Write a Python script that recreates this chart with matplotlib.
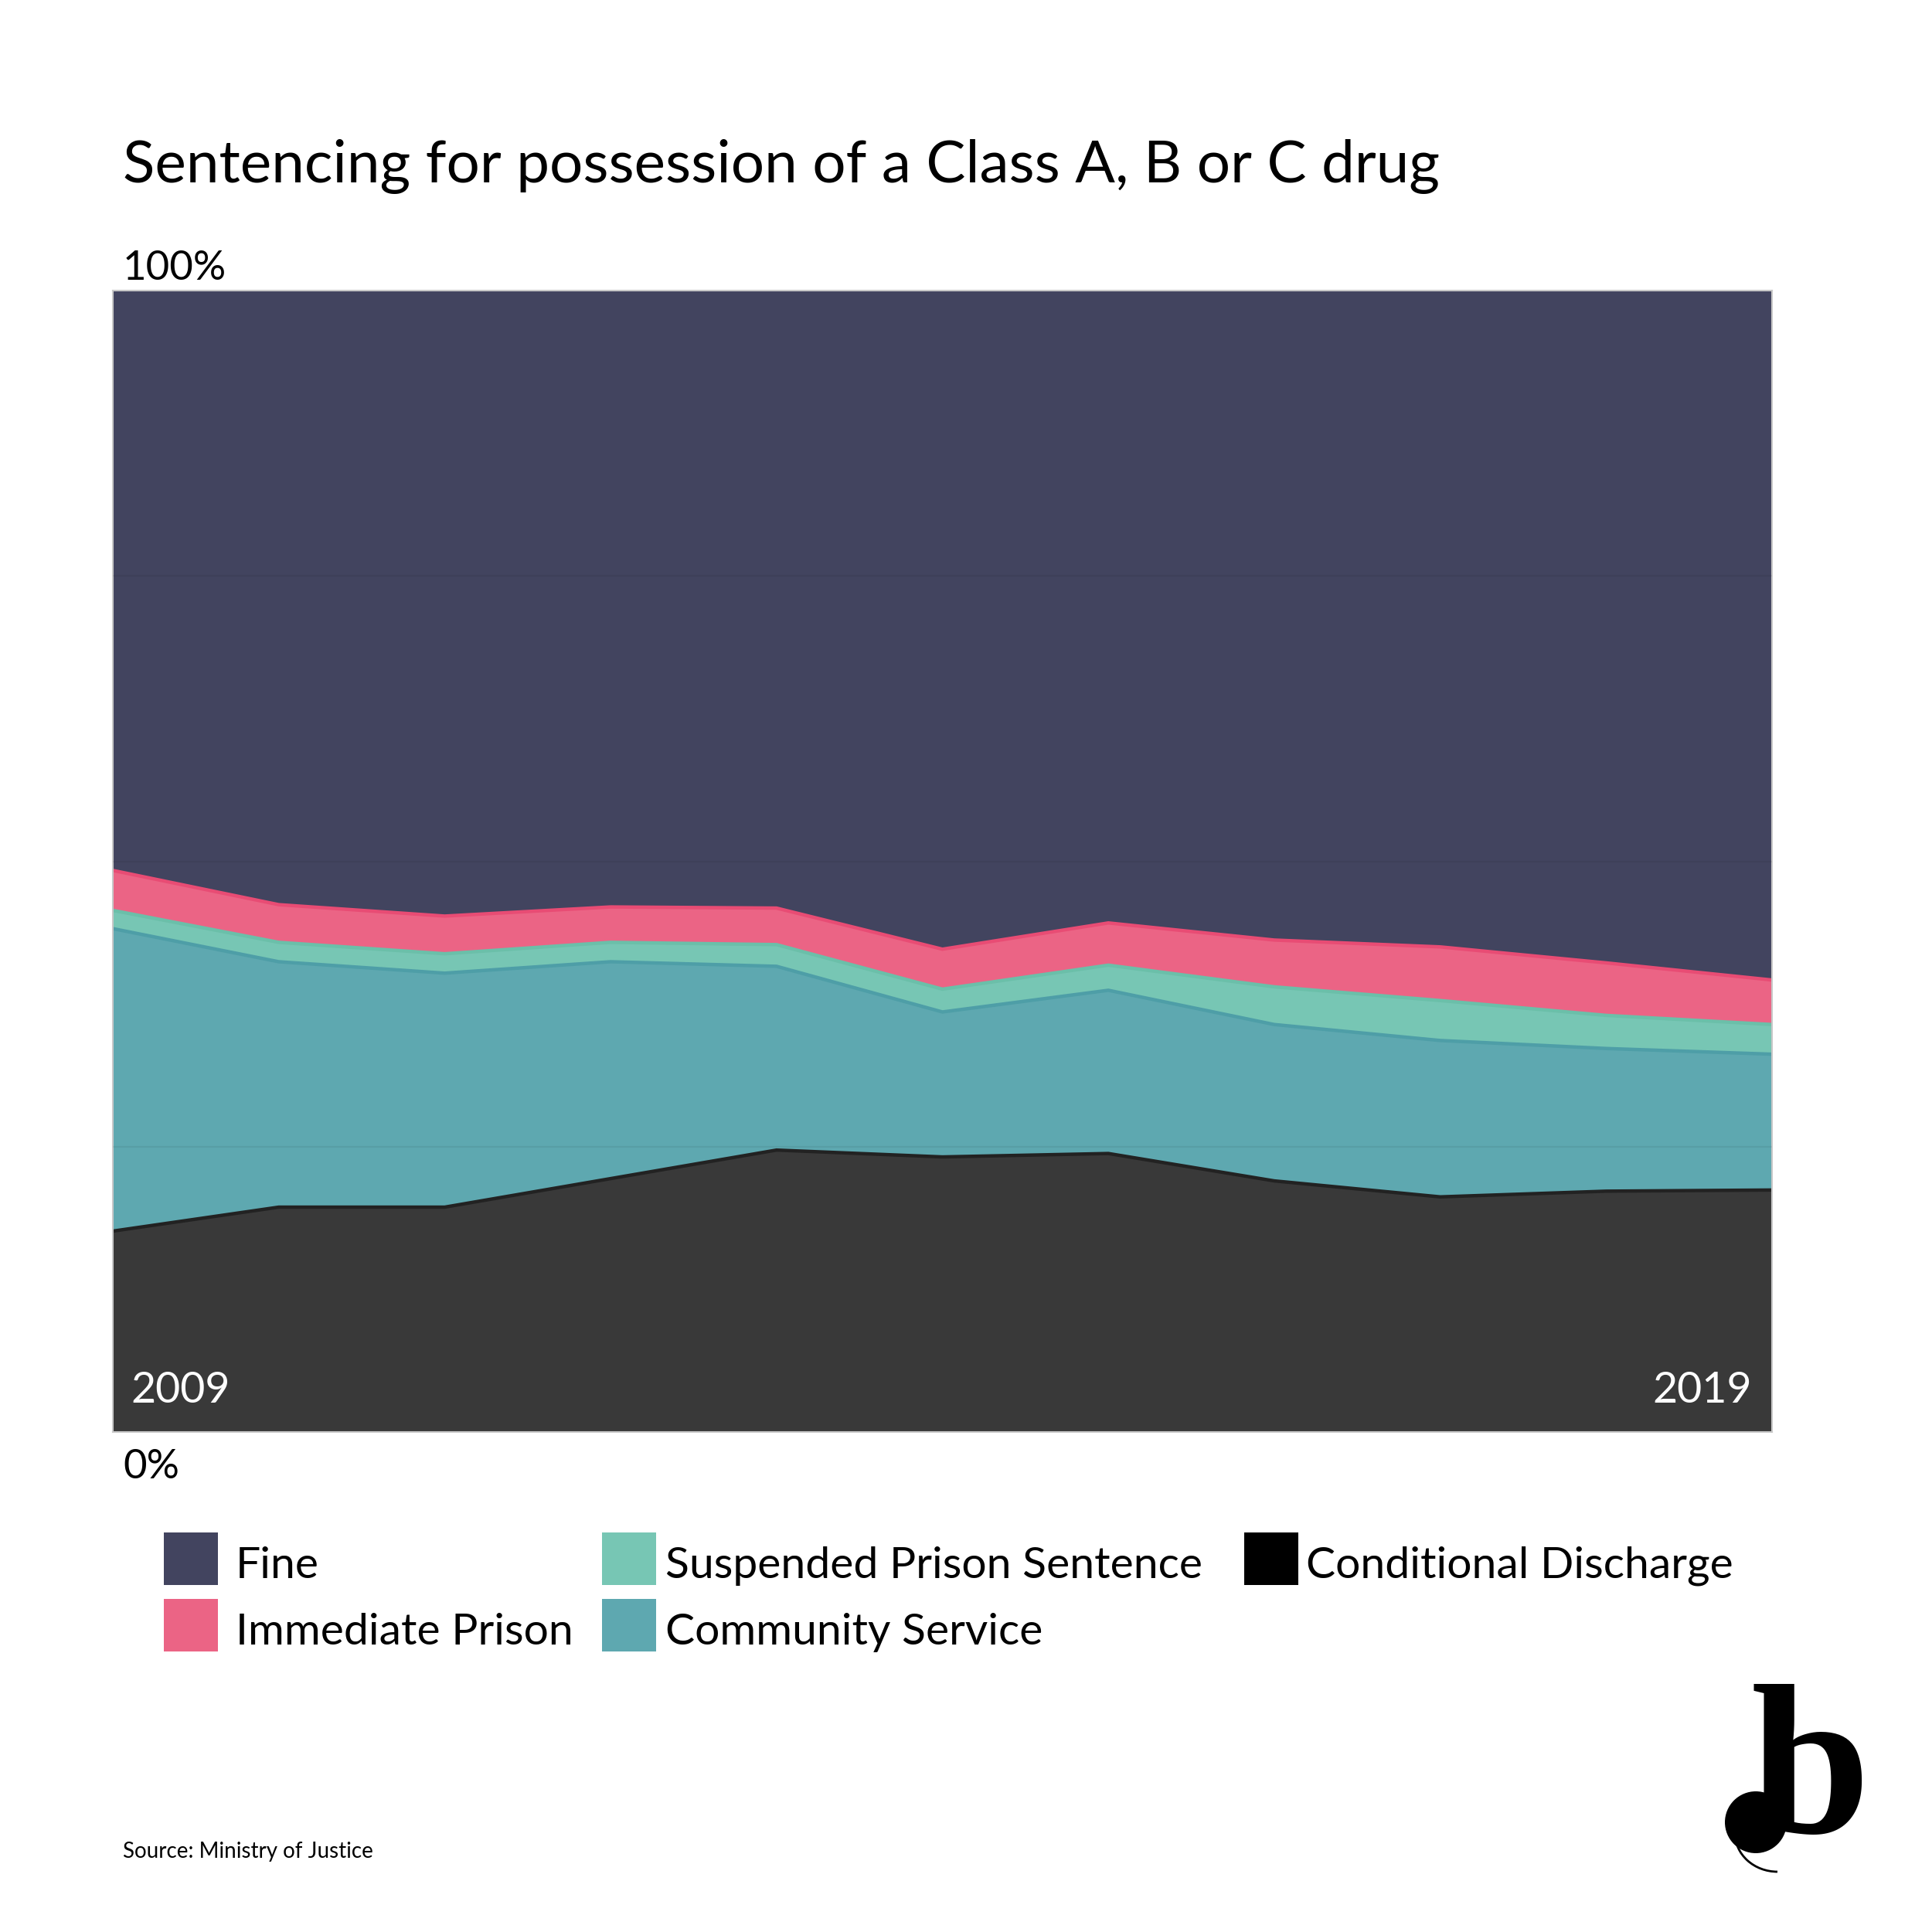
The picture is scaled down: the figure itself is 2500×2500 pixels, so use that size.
import numpy as np
import matplotlib.pyplot as plt
from matplotlib.patches import Rectangle, Circle, Arc

# share of sentences (%), 2009 -> 2019
years = list(range(2009, 2020))
conditional = [17.6, 19.7, 19.7, 22.2, 24.7, 24.1, 24.4, 22.0, 20.6, 21.1, 21.2]
community = [26.5, 21.5, 20.5, 19.0, 16.1, 12.7, 14.3, 13.7, 13.7, 12.5, 11.9]
suspended = [1.6, 1.7, 1.7, 1.7, 1.9, 2.0, 2.2, 3.3, 3.5, 2.9, 2.6]
immediate = [3.5, 3.3, 3.3, 3.1, 3.2, 3.5, 3.7, 4.1, 4.7, 4.6, 3.9]
fine = [50.8, 53.8, 54.8, 54.0, 54.1, 57.7, 55.4, 56.9, 57.5, 58.9, 60.4]

legend_rows = [["Fine", "Suspended Prison Sentence", "Conditional Discharge"],
               ["Immediate Prison", "Community Service"]]

fill_colors = ["#393939", "#5ea8b0", "#77c6b4", "#eb6485", "#42445f"]
edge_colors = ["#222222", "#4e9ea7", "#6bbfa9", "#e84c74"]
legend_colors = {"Fine": "#42445f", "Immediate Prison": "#eb6485",
                 "Suspended Prison Sentence": "#77c6b4",
                 "Community Service": "#5ea8b0", "Conditional Discharge": "#000000"}

W = 2500.0
TEXT = ["Lato", "DejaVu Sans"]


def px(x, y):
    return x / W, 1 - y / W


fig = plt.figure(figsize=(25, 25), dpi=100)
fig.patch.set_facecolor("white")

ax = fig.add_axes([146 / W, 1 - 1853 / W, 2147 / W, 1477 / W])
ax.stackplot(years, conditional, community, suspended, immediate, fine,
             colors=fill_colors, lw=0)
tops = np.cumsum([conditional, community, suspended, immediate], axis=0)
for top, c in zip(tops, edge_colors):
    ax.plot(years, top, color=c, lw=3.2, solid_joinstyle="miter")
for g in [25, 50, 75]:
    ax.axhline(g, color="black", alpha=0.06, lw=1.5, zorder=5)

ax.set_xlim(2009, 2019)
ax.set_ylim(0, 100)
ax.set_xticks([])
ax.set_yticks([])
for s in ax.spines.values():
    s.set_color("#c8c8c8")
    s.set_linewidth(1.5)

# year labels inside the plot
ax.text(0.011, 0.026, "2009", transform=ax.transAxes, color="white",
        fontsize=40, family=TEXT, ha="left", va="baseline")
ax.text(0.988, 0.026, "2019", transform=ax.transAxes, color="white",
        fontsize=40, family=TEXT, ha="right", va="baseline")

# title and axis end labels
fig.text(*px(159, 236), "Sentencing for possession of a Class A, B or C drug",
         fontsize=55, family=TEXT, ha="left", va="baseline", color="black")
fig.text(*px(159, 362), "100%", fontsize=38, family=TEXT,
         ha="left", va="baseline")
fig.text(*px(159, 1913), "0%", fontsize=38, family=TEXT,
         ha="left", va="baseline")

# legend
col_patch_x = [212, 779, 1610]
col_text_x = [305, 861, 1690]
row_patch_y = [1983, 2069]
row_base_y = [2042, 2128]
for r, row in enumerate(legend_rows):
    for c, name in enumerate(row):
        x0, y0 = px(col_patch_x[c], row_patch_y[r] + 68)
        fig.patches.append(Rectangle((x0, y0), 70 / W, 68 / W,
                                     transform=fig.transFigure,
                                     facecolor=legend_colors[name], lw=0))
        fig.text(*px(col_text_x[c], row_base_y[r]), name, fontsize=41,
                 family=TEXT, ha="left", va="baseline")

fig.text(*px(159, 2404), "Source: Ministry of Justice", fontsize=20,
         family=TEXT, ha="left", va="baseline")

# logo
fig.text(*px(2420, 2372), "b", fontsize=200, family=["Liberation Serif", "DejaVu Serif"],
         weight="bold", ha="right", va="baseline")
fig.patches.append(Circle(px(2272, 2358), 40 / W, transform=fig.transFigure,
                          facecolor="black", lw=0))
fig.patches.append(Arc(px(2300, 2372), 110 / W, 100 / W, theta1=180, theta2=270,
                       transform=fig.transFigure, color="black", lw=2))

fig.savefig("out.png", dpi=100)
